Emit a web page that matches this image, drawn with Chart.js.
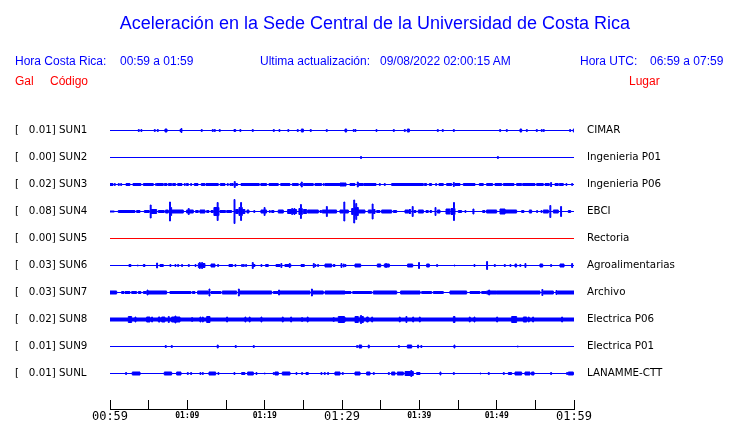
<!DOCTYPE html>
<html>
<head>
<meta charset="utf-8">
<script src="https://cdn.jsdelivr.net/npm/chart.js@4/dist/chart.umd.min.js"></script>
<style>
  html, body { margin: 0; padding: 0; background: #ffffff; }
  #wrap { position: relative; width: 740px; height: 423px; overflow: hidden; }
  #c { position: absolute; left: 0; top: 0; }
  .t { position: absolute; white-space: pre; font-family: "Liberation Sans", Arial, sans-serif; }
  .title { font-size: 18px; line-height: 20px; color: #0000ff; top: 13px; left: 0; width: 750px; text-align: center; }
  .hd { font-size: 12px; line-height: 14px; color: #0000ff; top: 54px; }
  .rd { font-size: 12px; line-height: 14px; color: #ff0000; top: 74px; }
</style>
</head>
<body>
<div id="wrap">
  <canvas id="c" width="740" height="423"></canvas>
  <div class="t title">Aceleración en la Sede Central de la Universidad de Costa Rica</div>
  <div class="t hd" style="left:15px">Hora Costa Rica:</div>
  <div class="t hd" style="left:120px">00:59 a 01:59</div>
  <div class="t hd" style="left:260px">Ultima actualización:</div>
  <div class="t hd" style="left:380px">09/08/2022 02:00:15 AM</div>
  <div class="t hd" style="left:580px">Hora UTC:</div>
  <div class="t hd" style="left:650px">06:59 a 07:59</div>
  <div class="t rd" style="left:15px">Gal</div>
  <div class="t rd" style="left:50px">Código</div>
  <div class="t rd" style="left:629px">Lugar</div>
</div>
<script>
// ---------- data ----------
const stations = ['SUN1','SUN2','SUN3','SUN4','SUN5','SUN6','SUN7','SUN8','SUN9','SUNL'];
const gal = ['0.01','0.00','0.02','0.08','0.00','0.03','0.03','0.02','0.01','0.01'];
const places = ['CIMAR','Ingenieria P01','Ingenieria P06','EBCI','Rectoria','Agroalimentarias','Archivo','Electrica P06','Electrica P01','LANAMME-CTT'];
const timeLabels = ['00:59','','01:09','','01:19','','01:29','','01:39','','01:49','','01:59'];
// minutes since 00:59 ; events: [t, amp] single spike or [t0, t1, amp] burst
const baseAmp = [0,0,0,0,0,0,0,1.5,0,0];
const sun1 = [[3.66,1],[4.0,1],[5.73,1],[6.12,1],[7.11,7.37,1.5],[9.05,9.31,1],[9.18,2],[11.8,1],[13.23,1],[13.49,1],[14.13,1],[16.03,16.25,1],[16.8,1],[18.4,1],[21.12,1],[21.85,1],[23.0,1],[24.22,1],[24.74,25.0,1.5],[25.9,1],[27.97,1],[30.39,30.6,1.5],[31.46,1],[31.68,1],[34.4,1],[36.64,1],[38.06,1],[38.45,38.71,1.5],[42.33,1],[42.97,1],[44.4,1],[50.39,1],[51.25,1],[53.02,53.23,1.5],[53.84,1],[55.13,1],[55.77,1],[56.03,1],[59.44,1],[59.91,1.5]];
const sun2 = [[32.4,1],[50.1,1]];
const sun3 = [[0,0.39,1],[0.56,1],[1.07,1.2,1],[1.38,1],[2.07,2.58,1],[2.97,4.0,1],[4.31,5.6,1],[5.9,1],[6.07,6.89,1],[7.02,7.37,1],[7.54,7.97,1],[8.1,8.49,1],[8.75,9.31,1],[9.61,1],[9.87,10.13,1],[10.43,1],[10.9,11.38,1],[11.8,12.28,1],[12.41,14.0,1],[14.26,14.87,1],[15.17,1],[15.51,1],[15.69,15.94,1],[16.07,3],[16.25,16.5,1],[16.94,19.3,1],[19.5,20.25,1],[20.56,21.76,1],[22.07,23.27,1],[23.57,24.35,1],[24.6,1],[24.74,2.5],[25.0,26.29,1],[26.5,27.37,1],[27.58,1],[27.8,30.3,1],[29.74,30.52,1.5],[31.03,31.68,1],[31.98,2.5],[32.11,32.76,1],[32.84,34.4,1],[34.83,1],[35.47,1],[36.42,40.52,1],[40.65,40.95,1],[41.29,41.59,1],[42.11,1],[42.54,43.1,1],[43.53,44.18,1],[44.4,2],[44.61,45.26,1],[45.69,47.2,1],[47.76,48.27,1],[48.7,49.48,1],[49.78,50.65,1],[50.86,52.24,1],[52.58,53.23,1],[53.36,54.96,1],[55.17,56.03,1],[56.25,56.81,1],[56.98,2],[57.54,57.97,1],[58.1,58.62,1],[58.96,1],[59.7,1]];
const sun4 = [[0,0.56,0.5],[1.07,3.23,1],[3.44,3.88,1],[4.44,5.08,1],[5.2,6.5],[5.33,6.03,2],[6.25,7.02,1],[7.19,7.54,1.5],[7.7,9.5],[7.8,7.97,4],[7.97,9.48,1.5],[9.91,10.77,1.5],[10.12,3],[11.07,11.42,1],[11.63,12.28,1.5],[12.5,12.8,1],[13.06,13.36,1],[13.44,14.09,4],[13.86,9],[14.22,14.95,1],[15.08,15.73,1],[16.04,12],[16.25,16.59,2],[16.68,17.11,4],[16.89,9],[17.15,17.45,2],[17.71,17.97,1.5],[18.6,1],[19.52,20.25,1.5],[19.93,4],[20.6,1],[20.9,21.2,1],[21.76,22.41,1.5],[22.97,24.13,2],[23.5,3],[23.79,3],[24.43,24.87,3],[24.63,7],[25.0,25.43,2],[25.56,26.94,1.5],[27.15,27.37,1],[27.45,28.23,1.5],[27.98,5],[28.23,29.3,1.5],[29.74,30.17,1.5],[30.24,9.5],[30.39,30.82,1.5],[31.25,31.46,3],[31.52,11.5],[31.68,32.11,4],[31.78,8],[32.11,32.97,1.5],[33.4,33.84,1.5],[33.9,7.5],[34.05,34.27,2],[34.48,34.91,1],[35.13,36.42,1.5],[36.64,37.07,1],[38.15,38.58,1.5],[38.66,38.88,2],[39.08,5],[39.3,39.57,1],[39.87,40.52,1.5],[40.86,41.16,1],[41.38,41.59,1],[42.03,4],[42.33,42.67,1.5],[43.45,43.96,2.5],[44.09,44.61,3],[44.42,9],[45.04,45.47,1],[45.9,1],[46.93,47.06,2.5],[48.19,48.49,1],[48.7,50.0,1.5],[50.43,51.08,2.5],[51.08,52.58,1.5],[53.23,53.53,1],[54.22,54.52,1.5],[55.17,1],[55.73,1],[56.03,56.68,1.5],[56.88,6],[57.33,57.97,1.5],[58.27,5],[59.26,59.57,1]];
const sun5 = [];
const sun6 = [[2.45,2.71,1],[3.53,0.5],[4.31,4.52,1],[6.03,2.5],[6.46,6.89,1],[7.75,1],[8.4,1],[8.75,1],[9.26,1],[10.13,1],[11.0,1],[11.42,12.28,2],[11.55,3],[11.85,3],[13.06,13.57,1.5],[13.92,1],[15.38,15.86,1],[16.16,1],[17.02,1],[17.24,1],[17.54,1],[18.4,3],[18.53,18.75,1],[19.52,1],[20.12,20.47,1],[21.46,21.98,1],[22.1,2],[22.62,23.4,1],[23.18,2],[24.7,25.13,1],[26.29,2],[26.5,1],[26.85,1],[27.8,28.66,1.5],[28.87,29.09,1],[29.87,2],[30.17,1.5],[30.39,1],[31.68,32.41,1.5],[34.57,35.0,1.5],[35.47,36.12,1.5],[35.64,2],[38.49,39.14,1.5],[39.9,3],[40.95,41.29,1.5],[42.24,1],[44.5,0.5],[47.07,1],[48.7,4],[49.7,1],[50.99,1],[51.72,1],[52.37,52.58,1.5],[53.0,1],[53.66,2],[55.6,55.95,1.5],[56.98,1],[58.19,58.71,1.5],[59.7,2]];
const sun7 = [[0,0.86,1.5],[1.5,1.81,1],[1.94,2.58,1],[2.8,3.44,1],[3.66,4.0,1],[4.31,4.74,1],[4.79,2.5],[4.87,7.32,1.5],[7.75,10.47,1],[10.64,10.99,1],[11.33,12.71,1.5],[12.8,3.5],[13.06,14.35,1],[14.52,16.38,1.5],[16.6,3.5],[16.68,20.9,1.5],[21.12,21.76,1],[21.8,2.5],[21.98,25.86,1.5],[26.05,3.5],[26.16,27.58,1.5],[27.8,30.38,1.5],[30.38,31.16,1],[31.38,33.84,1],[34.05,37.07,1.5],[37.58,40.09,1.5],[40.3,41.59,1],[41.81,43.1,1],[43.96,46.12,1.5],[46.55,47.84,1],[48.06,48.7,1],[48.7,50.0,1.5],[48.97,2.5],[50.0,55.6,1.5],[55.85,3],[56.03,57.33,1.5],[57.67,2],[57.84,60,1.5]];
const sun8 = [[2.37,2.8,3],[3.23,2.5],[4.74,5.17,2.5],[5.38,2.5],[6.25,6.46,2.5],[6.68,7.1,2.5],[7.54,3],[7.97,9.05,2.5],[8.4,3.5],[10.56,2],[11.63,2.5],[11.94,2.5],[12.5,12.93,3],[15.08,2.5],[17.45,2.5],[18.0,2.5],[19.52,2.5],[22.28,2.5],[23.36,2.5],[24.78,2],[25.5,2.5],[28.87,2],[29.52,30.3,3],[29.74,30.39,2.5],[31.68,32.11,3],[32.33,32.76,3],[32.4,4],[33.19,33.4,2.5],[33.84,2.5],[37.41,2.5],[38.27,3],[39.14,2.5],[40.0,2.5],[44.4,44.61,3],[46.46,2.5],[47.07,2.5],[50.0,2.5],[51.94,52.58,3],[53.45,53.88,2.5],[54.09,2.5],[54.65,2.5],[58.4,2.5]];
const sun9 = [[7.15,1],[7.93,1],[13.87,1.5],[16.2,1],[18.53,1],[31.9,1],[32.2,32.54,1.5],[33.4,1.5],[37.3,1],[38.45,39.01,1.5],[39.78,1.5],[40.2,1],[44.48,1.5],[52.67,0.5]];
const sunL = [[2.02,1],[2.88,3.88,1.5],[7.02,7.97,1.5],[8.62,9.18,1.5],[10.0,1],[10.43,1],[11.63,1],[11.94,1],[12.8,13.66,1.5],[13.96,1],[16.03,1],[17.02,17.45,1],[17.8,18.53,1.5],[18.88,1],[19.95,0.5],[21.12,1],[21.33,21.76,1.5],[22.28,23.27,1.5],[24.05,1],[24.78,1],[25.34,25.64,1],[27.28,1],[27.71,1],[28.14,1],[29.09,29.74,1.5],[30.04,1],[31.68,32.33,1.5],[33.19,33.62,1.5],[34.05,1],[36.0,1],[36.42,36.85,1.5],[37.15,37.93,1.5],[38.15,39.22,2],[38.9,3],[39.65,40.09,1],[42.67,1.5],[44.4,1],[47.84,0.5],[48.92,1],[50.86,1],[51.51,51.94,1],[52.37,53.23,1.5],[53.66,54.31,1.5],[54.52,54.83,1.5],[56.98,1],[59.05,1],[59.26,59.91,1.5]];
const traceEvents = [sun1, sun2, sun3, sun4, sun5, sun6, sun7, sun8, sun9, sunL];

// ---------- build ----------
const GAIN = 1 / 27;       // row units per count
const SPIKE = 0.12;        // duration of a single-sample spike (min)
const T0 = 0, T1 = 60;

function envelope(base, evs) {
  const ev = evs.map(e => e.length === 2 ? [e[0], e[0] + SPIKE, e[1]] : e);
  const set = new Set([T0, T1]);
  ev.forEach(e => { set.add(e[0]); set.add(Math.min(e[1], T1)); });
  const xs = [...set].sort((a, b) => a - b);
  return xs.map(x => {
    let a = base;
    ev.forEach(e => { if (x >= e[0] && x < e[1] && e[2] > a) a = e[2]; });
    return { x, a };
  });
}

const datasets = [];
stations.forEach((s, i) => {
  const env = envelope(baseAmp[i], traceEvents[i]);
  const col = s === 'SUN5' ? '#ff0000' : '#0000ff';
  const common = { borderColor: col, backgroundColor: col, borderWidth: 1, pointRadius: 0, pointHoverRadius: 0, stepped: true, yAxisID: 'y' };
  datasets.push(Object.assign({ label: s + '+', data: env.map(p => ({ x: p.x, y: i - p.a * GAIN })), fill: '+1' }, common));
  datasets.push(Object.assign({ label: s + '-', data: env.map(p => ({ x: p.x, y: i + p.a * GAIN })), fill: false }, common));
});

const rowTicks = s => { s.ticks = stations.map((_, i) => ({ value: i })); };
const YMIN = -1 - 0.5 / 27, YMAX = YMIN + 306 / 27;

new Chart(document.getElementById('c'), {
  type: 'line',
  data: { datasets },
  options: {
    responsive: false,
    devicePixelRatio: 1,
    animation: false,
    events: [],
    layout: { padding: { left: 15, right: 0, top: 103, bottom: 0 } },
    plugins: { legend: { display: false }, tooltip: { enabled: false }, title: { display: false } },
    scales: {
      x: {
        type: 'linear', position: 'bottom', min: T0, max: T1,
        afterBuildTicks: s => { s.ticks = timeLabels.map((_, i) => ({ value: i * 5 })); },
        afterFit: s => { s.height = 14; },
        grid: { display: true, drawOnChartArea: false, drawTicks: true, tickLength: -9, color: '#000000', lineWidth: 1 },
        border: { display: true, color: '#000000', width: 1 },
        ticks: {
          autoSkip: false, maxRotation: 0, minRotation: 0, padding: 9.5, color: '#000000',
          callback: (v, idx) => timeLabels[idx],
          font: ctx => (ctx.index % 6 === 0)
            ? { family: '"DejaVu Sans Mono", monospace', size: 12, lineHeight: '14px' }
            : { family: '"DejaVu Sans Mono", monospace', size: 8, weight: 'bold', lineHeight: '12px' }
        }
      },
      y: {
        type: 'linear', position: 'left', reverse: true, min: YMIN, max: YMAX,
        afterBuildTicks: rowTicks,
        afterFit: s => { s.width = 95; },
        grid: { display: false, drawTicks: false }, border: { display: false },
        ticks: {
          autoSkip: false, crossAlign: 'far', padding: 0, color: '#000000',
          font: { family: '"DejaVu Sans", sans-serif', size: 10.3 },
          callback: v => '[' + gal[v].padStart(7, ' ') + '] ' + stations[v]
        }
      },
      yR: {
        type: 'linear', position: 'right', reverse: true, min: YMIN, max: YMAX,
        afterBuildTicks: rowTicks,
        afterFit: s => { s.width = 166; },
        grid: { display: false, drawTicks: true, tickLength: 13 }, border: { display: false },
        ticks: {
          autoSkip: false, crossAlign: 'near', padding: 0, color: '#000000',
          font: { family: '"DejaVu Sans", sans-serif', size: 10.3 },
          callback: v => places[v]
        }
      }
    }
  }
});
</script>
</body>
</html>
